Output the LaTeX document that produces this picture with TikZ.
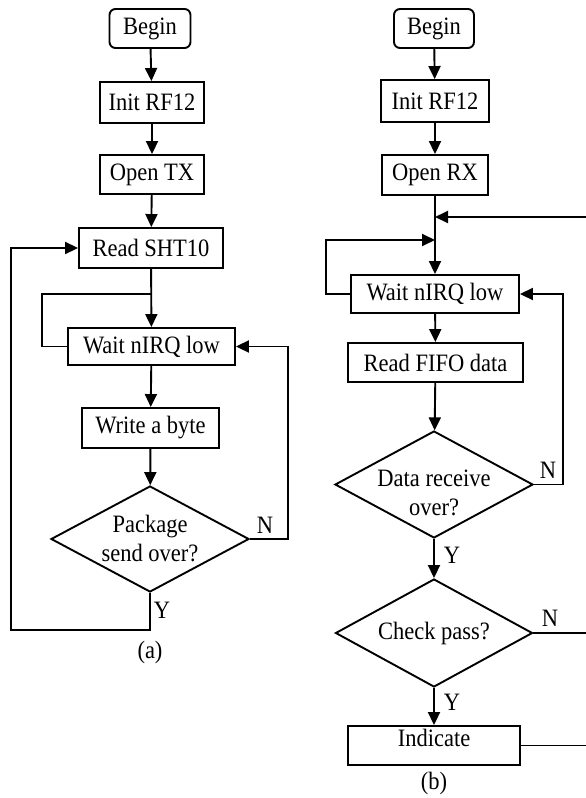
\documentclass[tikz,border=0pt]{standalone}
\usepackage{fontspec}
\setmainfont[FakeStretch=0.9]{Liberation Serif}
\usetikzlibrary{arrows.meta,shapes.geometric,calc}
\begin{document}
\begin{tikzpicture}[x=1pt,y=-1pt,
  every node/.style={font=\fontsize{25}{29}\selectfont},
  box/.style={draw,line width=1.9pt,inner sep=0pt},
  rbox/.style={box,rounded corners=6pt},
  dia/.style={draw,line width=1.9pt,diamond,inner sep=0pt},
  lbl/.style={inner sep=0pt},
  conn/.style={line width=1.9pt},
  arr/.style={conn,-{Triangle[length=13pt,width=12pt]}}]
\useasboundingbox (0,0) rectangle (586,798);
\clip (0,0) rectangle (586,798);
\fill[white] (0,0) rectangle (586,798);
% ---------- (a) ----------
\node[rbox,minimum width=81pt,minimum height=39pt] (beginA) at (150,28.5) {Begin};
\node[box,minimum width=104pt,minimum height=41pt] (initA) at (152,102.5) {Init RF12};
\node[box,minimum width=104pt,minimum height=39pt] (openA) at (152,174.5) {Open TX};
\node[box,minimum width=144pt,minimum height=40pt] (readA) at (151,248) {Read SHT10};
\node[box,minimum width=167pt,minimum height=37pt] (waitA) at (151.5,346.5) {Wait nIRQ low};
\node[box,minimum width=137pt,minimum height=40pt] (writeA) at (150.5,428) {Write a byte};
\node[dia,minimum width=198pt,minimum height=106pt] (diaA) at (150,539) {};
\node[lbl,align=center] (diaAt) at (150,538) {Package\\send over?};
\coordinate (joinA) at (151,294);
\draw[arr] (beginA) -- (initA);
\draw[arr] (initA) -- (openA);
\draw[arr] (openA) -- (readA);
\draw[arr] (readA) -- (waitA);
\draw[arr] (waitA) -- (writeA);
\draw[arr] (writeA) -- (diaA);
\draw[conn] (waitA.west) -- ++(-25,0) |- (joinA);
\draw[arr] (diaA.east) -- ++(38,0) |- (waitA.east);
\draw[arr] (diaA.south) -- ++(0,37) -| ([xshift=-67pt]readA.west) -- (readA.west);
\node[lbl] (nA) at (265,525) {N};
\node[lbl] (yA) at (162,610) {Y};
\node[lbl] (capA) at (150,652) {(a)};
% ---------- (b) ----------
\node[rbox,minimum width=80pt,minimum height=39pt] (beginB) at (434,28.5) {Begin};
\node[box,minimum width=108pt,minimum height=42pt] (initB) at (435,101) {Init RF12};
\node[box,minimum width=106pt,minimum height=40pt] (openB) at (435,175) {Open RX};
\node[box,minimum width=168pt,minimum height=38pt] (waitB) at (435,294) {Wait nIRQ low};
\node[box,minimum width=175pt,minimum height=39pt] (readB) at (435.5,362.5) {Read FIFO data};
\node[dia,minimum width=198pt,minimum height=107pt] (diaB1) at (434,484.5) {};
\node[lbl,align=center] (diaB1t) at (434,493) {Data receive\\over?};
\node[dia,minimum width=197pt,minimum height=108pt] (diaB2) at (434,633) {};
\node[lbl] (diaB2t) at (434,633) {Check pass?};
\node[box,minimum width=172pt,minimum height=39pt] (indB) at (434,745.5) {};
\node[lbl] (indBt) at (434,738) {Indicate};
\coordinate (joinB1) at (435,217);
\coordinate (joinB2) at (435,240);
\coordinate (edgeB) at (592,633);
\draw[arr] (beginB) -- (initB);
\draw[arr] (initB) -- (openB);
\draw[arr] (openB) -- (waitB);
\draw[arr] (waitB) -- (readB);
\draw[arr] (readB) -- (diaB1);
\draw[arr] (diaB1) -- (diaB2);
\draw[arr] (diaB2) -- (indB);
\draw[arr] (waitB.west) -- ++(-24,0) |- (joinB2);
\draw[arr] (diaB1.east) -- ++(29,0) |- (waitB.east);
\draw[arr] (diaB2.east) -- (edgeB) |- (joinB1);
\draw[conn] (indB.east) -| (edgeB);
\node[lbl] (nB1) at (548,470) {N};
\node[lbl] (yB1) at (452,555) {Y};
\node[lbl] (nB2) at (550,618) {N};
\node[lbl] (yB2) at (452,702) {Y};
\node[lbl] (capB) at (434,783) {(b)};
\end{tikzpicture}
\end{document}
